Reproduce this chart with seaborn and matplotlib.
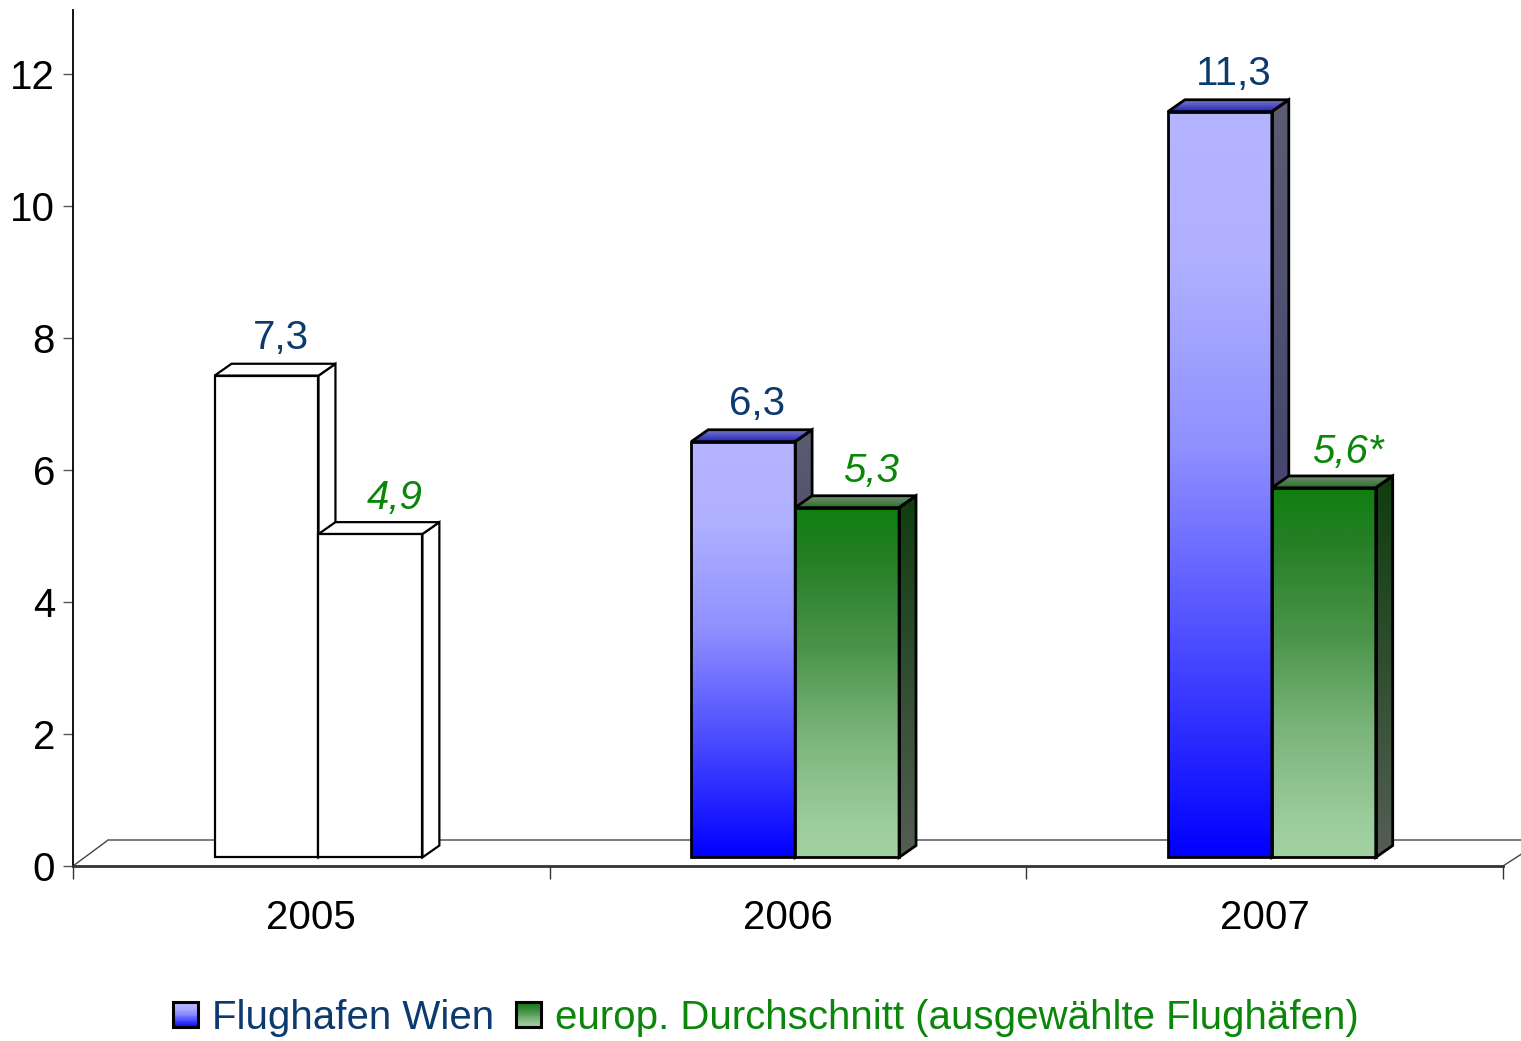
import numpy as np
import pandas as pd
import matplotlib
matplotlib.use("Agg")
import matplotlib.pyplot as plt
import seaborn as sns
from matplotlib.colors import LinearSegmentedColormap
from matplotlib.patches import Polygon, Rectangle
from matplotlib.legend_handler import HandlerBase

# ---------------- data ----------------
years = ["2005", "2006", "2007"]
wien = [7.3, 6.3, 11.3]
europ = [4.9, 5.3, 5.6]
wien_labels = ["7,3", "6,3", "11,3"]
europ_labels = ["4,9", "5,3", "5,6*"]
series_names = ["Flughafen Wien", "europ. Durchschnitt (ausgewählte Flughäfen)"]
yticks = [0, 2, 4, 6, 8, 10, 12]

df = pd.DataFrame({
    "Jahr": years * 2,
    "Wert": wien + europ,
    "Serie": [series_names[0]] * 3 + [series_names[1]] * 3,
})

# ---------------- style ----------------
sns.set_theme(style="white")
plt.rcParams["font.family"] = ["Liberation Sans", "DejaVu Sans"]

FS = 29
BLUE_TXT = "#0b3a6e"
GREEN_TXT = "#0a870a"

cm_wien_front = LinearSegmentedColormap.from_list(
    "wf", [(0, "#0000ff"), (0.3, "#5050ff"), (0.55, "#9090ff"), (0.8, "#b0b0ff"), (1, "#b4b4ff")])
cm_wien_side = LinearSegmentedColormap.from_list("ws", [(0, "#30306a"), (1, "#5c5c72")])
cm_wien_top = LinearSegmentedColormap.from_list("wt", [(0, "#2020b8"), (1, "#7a7ac8")])
cm_eu_front = LinearSegmentedColormap.from_list(
    "ef", [(0, "#a2d2a2"), (0.1, "#9ccc9c"), (0.35, "#7ab47a"), (0.6, "#4a944a"), (0.85, "#267f26"), (1, "#0f7f0f")])
cm_eu_side = LinearSegmentedColormap.from_list("es", [(0, "#545e54"), (1, "#0f3d0f")])
cm_eu_top = LinearSegmentedColormap.from_list("et", [(0, "#2c6e2c"), (1, "#6f8f6f")])

fig = plt.figure(figsize=(15.21, 10.41), dpi=100)
ax = fig.add_axes([73 / 1521, 175 / 1041, 1430 / 1521, 856 / 1041])

sns.barplot(data=df, x="Jahr", y="Wert", hue="Serie", hue_order=series_names,
            order=years, width=0.436, dodge=True, legend=False, ax=ax,
            errorbar=None, edgecolor="black", linewidth=2.0, saturation=1)

BASE = 0.13      # bars sit slightly above the floor front edge
SHIFT = 0.015    # horizontal shift of bar pairs
DX, DY = 0.0356, 0.18  # 3D depth offset
LW = 2.0


def grad_fill(poly_xy, cmap, z):
    poly = Polygon(poly_xy, closed=True, facecolor="none", edgecolor="none", transform=ax.transData)
    ax.add_patch(poly)
    xs = [p[0] for p in poly_xy]
    ys = [p[1] for p in poly_xy]
    g = np.linspace(0, 1, 256)[:, None]
    im = ax.imshow(g, cmap=cmap, extent=(min(xs), max(xs), min(ys), max(ys)),
                   origin="lower", aspect="auto", zorder=z, interpolation="bilinear")
    im.set_clip_path(poly)


bars = list(ax.patches)
for j, p in enumerate(bars):
    series = 0 if j < 3 else 1
    cat = j % 3
    z = 2 + series + cat * 0.01
    p.set_x(p.get_x() + SHIFT)
    p.set_y(BASE)
    x0 = p.get_x()
    w = p.get_width()
    h = p.get_height()
    x1 = x0 + w
    b = BASE
    side = [(x1, b), (x1 + DX, b + DY), (x1 + DX, b + h + DY), (x1, b + h)]
    top = [(x0, b + h), (x0 + DX, b + h + DY), (x1 + DX, b + h + DY), (x1, b + h)]
    if cat == 0:
        p.set_facecolor("white")
        for poly in (side, top):
            ax.add_patch(Polygon(poly, closed=True, facecolor="white", edgecolor="black",
                                 linewidth=LW * 0.8, zorder=z + 0.002, joinstyle="miter"))
    else:
        p.set_facecolor("none")
        front_cm, side_cm, top_cm = ((cm_wien_front, cm_wien_side, cm_wien_top) if series == 0
                                     else (cm_eu_front, cm_eu_side, cm_eu_top))
        grad_fill([(x0, b), (x1, b), (x1, b + h), (x0, b + h)], front_cm, z)
        grad_fill(side, side_cm, z)
        grad_fill(top, top_cm, z)
        for poly in (side, top):
            ax.add_patch(Polygon(poly, closed=True, facecolor="none", edgecolor="black",
                                 linewidth=LW, zorder=z + 0.004, joinstyle="miter"))
    p.set_zorder(z + 0.005)
    p.set_edgecolor("black")
    p.set_linewidth(LW if cat else LW * 0.8)
    # value label
    if series == 0:
        ax.text(x0 + w / 2 + 0.03, b + h + 0.57, wien_labels[cat], ha="center", va="center",
                fontsize=FS, color=BLUE_TXT, zorder=10)
    else:
        ax.text(x0 + w / 2 + 0.05, b + h + 0.55, europ_labels[cat], ha="center", va="center",
                fontsize=FS, color=GREEN_TXT, style="italic", zorder=10)

# floor (3D back wall base)
FLOOR_DY = 0.39
FLOOR_DX = 0.073
ax.plot([-0.5, -0.5 + FLOOR_DX], [0, FLOOR_DY], color="#444444", lw=1.0, zorder=1, clip_on=False)
ax.plot([-0.5 + FLOOR_DX, 2.56], [FLOOR_DY, FLOOR_DY], color="#666666", lw=1.2, zorder=1, clip_on=False)
ax.plot([2.5, 2.545], [0, 0.21], color="#444444", lw=1.0, zorder=1, clip_on=False)

# axes styling
ax.set_xlim(-0.5, 2.5)
ax.set_ylim(0, 12.97)
ax.set_yticks(yticks)
ax.set_yticklabels([str(t) for t in yticks])
ax.set_xticks([0, 1, 2])
ax.set_xticklabels(years)
ax.set_xticks([-0.5, 0.5, 1.5, 2.5], minor=True)
ax.tick_params(axis="x", which="major", length=0, pad=24, labelsize=FS, colors="black")
ax.tick_params(axis="x", which="minor", length=9, width=1.0, color="#333333", direction="out", bottom=True)
ax.tick_params(axis="y", which="major", length=7, width=1.0, color="#555555", pad=6, labelsize=FS,
               left=True, labelcolor="black")
ax.set_xlabel("")
ax.set_ylabel("")
for s in ("top", "right"):
    ax.spines[s].set_visible(False)
ax.spines["left"].set_color("black")
ax.spines["left"].set_linewidth(1.3)
ax.spines["bottom"].set_color("#333333")
ax.spines["bottom"].set_linewidth(2.0)
ax.grid(False)


# legend with gradient squares
class GradHandler(HandlerBase):
    def __init__(self, cmap):
        super().__init__()
        self.cmap = cmap

    def create_artists(self, legend, orig_handle, xdescent, ydescent, width, height, fontsize, trans):
        arts = []
        n = 30
        side = min(width, height)
        x0 = -xdescent + (width - side) / 2
        y0 = -ydescent + (height - side) / 2
        for i in range(n):
            r = Rectangle((x0, y0 + side * i / n), side, side / n + 0.3,
                          facecolor=self.cmap((i + 0.5) / n), edgecolor="none", transform=trans)
            arts.append(r)
        arts.append(Rectangle((x0, y0), side, side, facecolor="none", edgecolor="black",
                              linewidth=2.2, transform=trans))
        return arts


h1 = Rectangle((0, 0), 1, 1)
h2 = Rectangle((0, 0), 1, 1)
leg = fig.legend([h1, h2], series_names, loc="center",
                 bbox_to_anchor=(766 / 1521, 1 - 1018 / 1041), ncol=2, frameon=False,
                 fontsize=FS, handlelength=0.62, handleheight=0.62, handletextpad=0.35,
                 columnspacing=0.55,
                 handler_map={h1: GradHandler(cm_wien_front), h2: GradHandler(cm_eu_front)})
leg.get_texts()[0].set_color(BLUE_TXT)
leg.get_texts()[1].set_color(GREEN_TXT)

fig.savefig("out.png", dpi=100)
